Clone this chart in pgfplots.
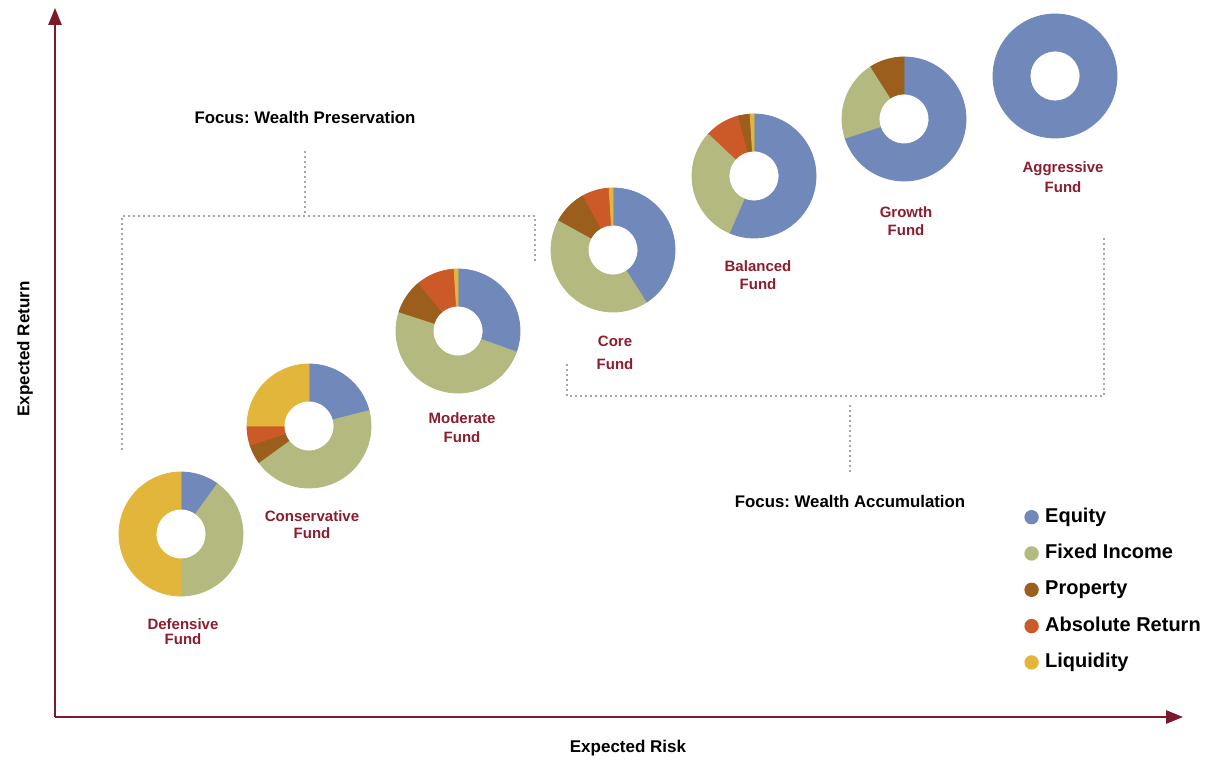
\documentclass[border=0pt]{standalone}
\usepackage{pgfplots}
\pgfplotsset{compat=1.18}
\usepackage{pgfplotstable}
\usepackage{fontspec}
\setmainfont{Liberation Sans}
\usetikzlibrary{arrows.meta}
\definecolor{eqc}{HTML}{7089BA}
\definecolor{fic}{HTML}{B4B97F}
\definecolor{prc}{HTML}{9B5E1D}
\definecolor{abc}{HTML}{CC5A28}
\definecolor{lqc}{HTML}{E2B63B}
\definecolor{fundred}{HTML}{8C1D2F}
\definecolor{axred}{HTML}{7B1A2B}
\definecolor{dotgray}{HTML}{A6A6A6}
\frenchspacing

% funds: centre (x, y), allocation in percent, clockwise from 12 o'clock
% pb = property placed after absolute return (Balanced Fund)
\pgfplotstableread{
x    y   eq   fi   pr  ar  pb  lq
181  226 10   40   0   0   0   50
309  334 21   44   5   5   0   25
458  429 30.5 49.5 9   10  0   1
613  510 41   42   9   7   0   1
754  584 56.5 30.5 0   9   3   1
904  641 70   21   9   0   0   0
1055 684 100  0    0   0   0   0
}\funds

\def\Ro{31pt}
\def\Ri{12.5pt}
\newcommand\donutslice[2]{%
  \pgfmathsetmacro\pct{#1}%
  \pgfmathsetmacro\ea{\cum-3.6*\pct}%
  \ifdim \pct pt>0.01pt
    \fill[#2] (\cum:\Ro) arc[start angle=\cum, end angle=\ea, radius=\Ro]
      -- (\ea:\Ri) arc[start angle=\ea, end angle=\cum, radius=\Ri] -- cycle;
  \fi
  \global\let\cum\ea
}
\pgfdeclareplotmark{donut}{%
  \pgfkeys{/pgf/fpu/.try=false}%
  \gdef\cum{90}%
  \donutslice{\veq}{eqc}%
  \donutslice{\vfi}{fic}%
  \donutslice{\vpr}{prc}%
  \donutslice{\var}{abc}%
  \donutslice{\vpb}{prc}%
  \donutslice{\vlq}{lqc}%
}
\tikzset{dotline/.style={dotgray, line width=1pt, dash pattern=on 0.9pt off 1.6pt}}

\begin{document}
\begin{tikzpicture}
\begin{axis}[
  name=ax,
  x=0.5pt, y=0.5pt,
  xmin=0, xmax=1218, ymin=0, ymax=760,
  enlargelimits=false,
  hide axis, clip=false,
  legend style={at={(axis description cs:0.8407,0.3329)}, anchor=north west,
    draw=none, fill=none, font=\bfseries\fontsize{10}{12}\selectfont,
    row sep=8.35pt, inner sep=0pt,
    nodes={inner sep=0pt, text height=7.4pt, text depth=2.4pt}},
  legend cell align=left,
  legend image code/.code={\fill[#1, draw=none] (0pt,0pt) circle[radius=3.6pt]; \path (6.6pt,0pt);},
]
% axes arrows
\addplot[axred, line width=1.05pt, -{Triangle[length=8.5pt,width=6.6pt]}, forget plot]
  coordinates {(55,43) (55,752)};
\addplot[axred, line width=1.05pt, -{Triangle[length=8.5pt,width=6.6pt]}, forget plot]
  coordinates {(55,43) (1183,43)};

% dotted brackets
\addplot[dotline, forget plot]
  coordinates {(122,310) (122,544) (535,544) (535,498)};
\addplot[dotline, forget plot]
  coordinates {(305,547) (305,610)};
\addplot[dotline, forget plot]
  coordinates {(567,396) (567,364) (1104,364) (1104,525)};
\addplot[dotline, forget plot]
  coordinates {(850,355) (850,288)};

% donuts
\addplot[only marks, mark=donut, forget plot,
  visualization depends on={\thisrow{eq}\as\veq},
  visualization depends on={\thisrow{fi}\as\vfi},
  visualization depends on={\thisrow{pr}\as\vpr},
  visualization depends on={\thisrow{ar}\as\var},
  visualization depends on={\thisrow{pb}\as\vpb},
  visualization depends on={\thisrow{lq}\as\vlq},
] table[x=x, y=y] {\funds};

% legend
\addlegendimage{fill=eqc}\addlegendentry{Equity}
\addlegendimage{fill=fic}\addlegendentry{Fixed Income}
\addlegendimage{fill=prc}\addlegendentry{Property}
\addlegendimage{fill=abc}\addlegendentry{Absolute Return}
\addlegendimage{fill=lqc}\addlegendentry{Liquidity}

% fund labels
\begin{scope}[every node/.style={text=fundred, align=center}]
\node[font=\bfseries\fontsize{7.5}{7.5}\selectfont] at (axis cs:183,128.5) {Defensive\\Fund};
\node[font=\bfseries\fontsize{7.5}{8.5}\selectfont] at (axis cs:312,235.5) {Conservative\\Fund};
\node[font=\bfseries\fontsize{7.5}{9.5}\selectfont] at (axis cs:462,332.5) {Moderate\\Fund};
\node[font=\bfseries\fontsize{7.5}{11.5}\selectfont] at (axis cs:615,407.5) {Core\\Fund};
\node[font=\bfseries\fontsize{7.5}{9}\selectfont] at (axis cs:758,485) {Balanced\\Fund};
\node[font=\bfseries\fontsize{7.5}{9}\selectfont] at (axis cs:906,539) {Growth\\Fund};
\node[font=\bfseries\fontsize{7.5}{10}\selectfont] at (axis cs:1063,583) {Aggressive\\Fund};
\end{scope}

% focus texts and axis titles
\node[font=\bfseries\fontsize{8.4}{10}\selectfont] at (axis cs:305,642) {Focus: Wealth Preservation};
\node[font=\bfseries\fontsize{8.4}{10}\selectfont] at (axis cs:850,259) {Focus: Wealth Accumulation};
\node[font=\bfseries\fontsize{8.5}{10}\selectfont, rotate=90] at (axis cs:25,411) {Expected Return};
\node[font=\bfseries\fontsize{8.5}{10}\selectfont] at (axis cs:628,12) {Expected Risk};
\end{axis}
\pgfresetboundingbox
\path[use as bounding box] (ax.south west) rectangle (ax.north east);
\end{tikzpicture}
\end{document}
